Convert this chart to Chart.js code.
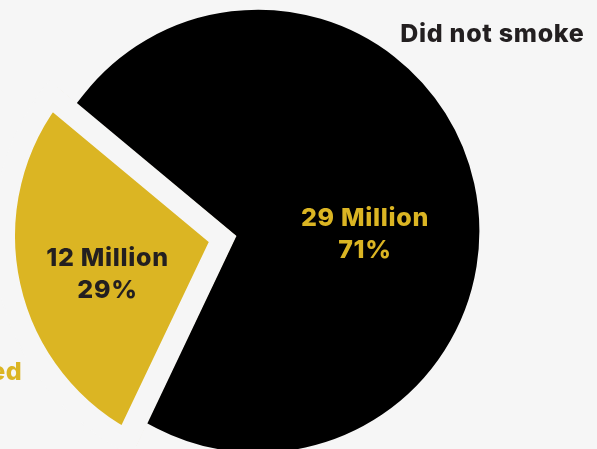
<!DOCTYPE html>
<html>
<head>
<meta charset="utf-8">
<script src="https://cdn.jsdelivr.net/npm/chart.js@4/dist/chart.umd.min.js"></script>
<style>
  html, body { margin: 0; padding: 0; background: #f6f6f6; }
  #wrap { position: relative; width: 597px; height: 449px; overflow: hidden; }
  canvas { display: block; }
</style>
</head>
<body>
<div id="wrap"><canvas id="c" width="597" height="449"></canvas></div>
<script>
// ---- data ----
const categories = ['Did not smoke', 'Smoked'];
const peopleMillions = [29, 12];
const sharePercent = [71, 29];

// ---- styles / layout ----
const BG = '#f6f6f6';
const GOLD = '#DBB523';
const DARK = '#231F20';
const sliceColors = ['#000000', GOLD];
const valueLabelColors = [GOLD, DARK];
const categoryLabelColors = [DARK, GOLD];
const FONT = 'Inter, "Noto Sans", sans-serif';
const PIE_RADIUS = 241.4;
const valueLabelPos = [ {x: 365, y: 225.7}, {x: 107.5, y: 265.7} ];
const categoryLabelPos = [ {x: 584.5, y: 41.7}, {x: 22.5, y: 380} ];
const LINE_GAP = 32.5;

function goldFill(ctx) {
  const chart = ctx.chart;
  const area = chart.chartArea;
  if (!area) return GOLD;
  const cx = (area.left + area.right) / 2;
  const cy = (area.top + area.bottom) / 2;
  const g = chart.ctx.createRadialGradient(cx, cy, 0, cx, cy, PIE_RADIUS + 6);
  const cut = (PIE_RADIUS - 8) / (PIE_RADIUS + 6);
  g.addColorStop(0, GOLD);
  g.addColorStop(cut, GOLD);
  g.addColorStop(Math.min(cut + 0.001, 1), BG);
  g.addColorStop(1, BG);
  return g;
}

const labelPlugin = {
  id: 'labels',
  afterDatasetsDraw(chart) {
    const c = chart.ctx;
    c.save();
    c.font = '800 25px ' + FONT;
    if ('letterSpacing' in c) c.letterSpacing = '0.7px';
    c.textAlign = 'center';
    c.textBaseline = 'alphabetic';
    peopleMillions.forEach((v, i) => {
      c.fillStyle = valueLabelColors[i];
      const p = valueLabelPos[i];
      c.fillText(v + ' Million', p.x, p.y);
      c.fillText(sharePercent[i] + '%', p.x, p.y + LINE_GAP);
    });
    c.textAlign = 'right';
    categories.forEach((name, i) => {
      c.fillStyle = categoryLabelColors[i];
      const p = categoryLabelPos[i];
      c.fillText(name, p.x, p.y);
    });
    c.restore();
  }
};

new Chart(document.getElementById('c'), {
  type: 'pie',
  data: {
    labels: categories,
    datasets: [{
      data: sharePercent,
      backgroundColor: (ctx) => ctx.dataIndex === 1 ? goldFill(ctx) : sliceColors[ctx.dataIndex],
      borderColor: ['#000000', BG],
      borderWidth: [35.4, 22],
      borderAlign: ['center', 'inner'],
      borderJoinStyle: ['miter', 'miter'],
      offset: [-150.4, 240],
      hoverOffset: 0,
      clip: false
    }]
  },
  options: {
    responsive: false,
    animation: false,
    events: [],
    rotation: -50.2,
    radius: PIE_RADIUS,
    layout: { padding: { left: 0, top: 0, right: 7.8, bottom: 2.8 } },
    plugins: { legend: { display: false }, tooltip: { enabled: false } }
  },
  plugins: [labelPlugin]
});
</script>
</body>
</html>
